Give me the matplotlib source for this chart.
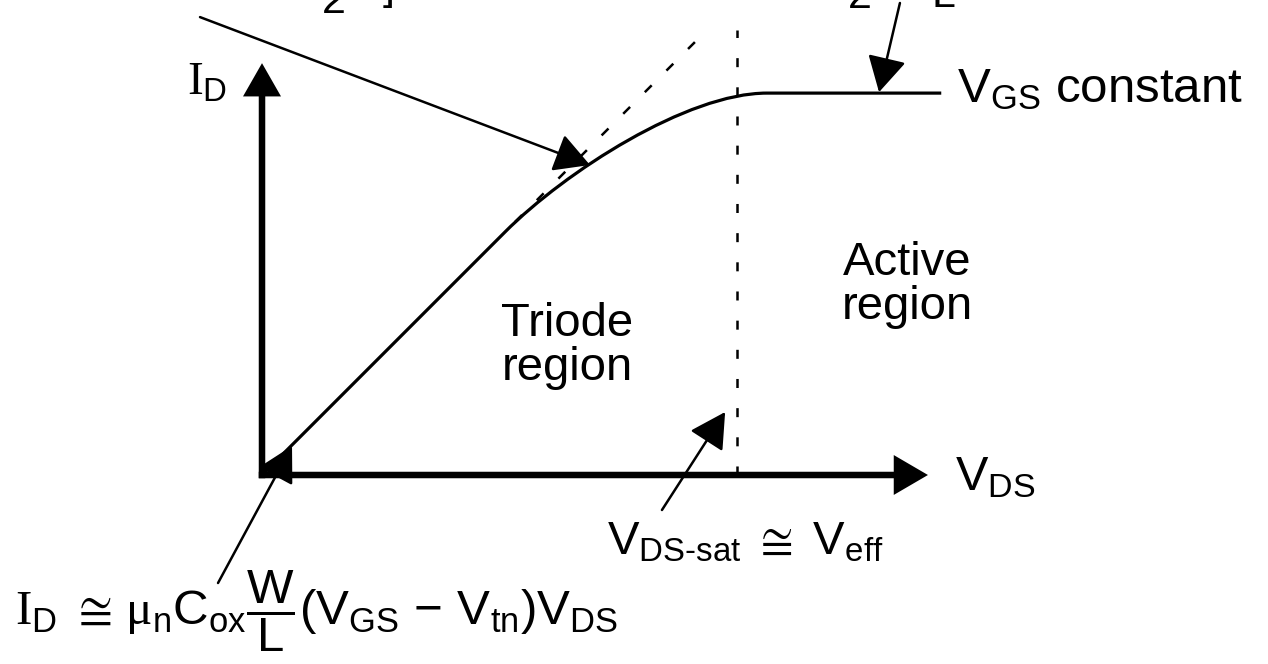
import matplotlib
matplotlib.use("Agg")
import matplotlib.pyplot as plt
from matplotlib.path import Path
from matplotlib.patches import PathPatch

plt.rcParams['mathtext.fontset'] = 'custom'
plt.rcParams['mathtext.rm'] = 'Liberation Sans'
plt.rcParams['mathtext.it'] = 'Liberation Serif'
plt.rcParams['mathtext.sf'] = 'Liberation Sans'
plt.rcParams['mathtext.default'] = 'rm'
plt.rcParams['font.family'] = ['Liberation Sans', 'DejaVu Sans']
plt.rcParams['lines.scale_dashes'] = False

# Normalised units: V_DS in units of V_eff, I_D scaled so the triode slope is 1
vds_sat = 1.0

# I_D–V_DS characteristic: straight triode part, cubic bend, flat active part
curve_vds = [0.0, 0.512, 0.638, 0.895, 1.063, 1.430]
curve_id = [0.0, 0.512, 0.638, 0.804, 0.804, 0.804]
curve_codes = [Path.MOVETO, Path.LINETO, Path.CURVE4, Path.CURVE4,
               Path.CURVE4, Path.LINETO]

# Linear (small V_DS) approximation extended as a dashed tangent
tangent_vds = [0.533, 0.939]
tangent_id = [0.533, 0.939]

# Axis extents
vds_axis_end = 1.402
id_axis_end = 0.867

fig = plt.figure(figsize=(12.68, 6.64), dpi=100)
ax = fig.add_axes([0, 0, 1, 1])
ax.set_xlim(-0.5516, 2.1179)
ax.set_ylim(-0.3979, 1.0)
ax.axis('off')

# Axes with arrowheads
shaft = 0.0137
ax.arrow(-shaft / 2, 0, vds_axis_end + shaft / 2, 0, width=shaft,
         head_width=0.084, head_length=0.072, length_includes_head=True,
         fc='k', ec='none', zorder=3)
ax.arrow(0, -shaft / 2, 0, id_axis_end + shaft / 2, width=shaft,
         head_width=0.080, head_length=0.070, length_includes_head=True,
         fc='k', ec='none', zorder=3)

# Characteristic curve
path = Path(list(zip(curve_vds, curve_id)), curve_codes)
ax.add_patch(PathPatch(path, fc='none', ec='k', lw=2.3, capstyle='butt',
                       zorder=2))

# Dashed tangent and saturation boundary
ax.plot(tangent_vds, tangent_id, color='k', lw=1.8, dashes=(7, 15))
ax.plot([vds_sat, vds_sat], [0, 0.937], color='k', lw=1.8, dashes=(6.5, 14.5))

# Labels
fs = 34
ax.text(-0.158, 0.80, r'$\mathit{I}_{D}$', fontsize=fs, ha='left',
        va='baseline')
ax.text(1.463, 0.785, r'$V_{GS}$ constant', fontsize=35.5, ha='left',
        va='baseline')
ax.text(1.459, -0.0316, r'$V_{DS}$', fontsize=fs + 1, ha='left',
        va='baseline')
ax.text(0.642, 0.272, 'Triode\nregion', fontsize=fs, ha='center',
        va='center', linespacing=1.0)
ax.text(1.358, 0.40, 'Active\nregion', fontsize=fs, ha='center',
        va='center', linespacing=1.0)
ax.text(0.726, -0.168, r'$V_{DS\text{-}sat}\ \cong\ V_{eff}$', fontsize=fs,
        ha='left', va='baseline')
ax.text(-0.52, -0.316,
        r'$\mathit{I}_{D}\ \cong\,\mathit{\mu}_{n}C_{ox}\dfrac{W}{L}'
        r'\mathit{(}V_{GS}\,-\,V_{tn}\mathit{)}V_{DS}$',
        fontsize=35.5, ha='left', va='baseline')

# Lower edges of the triode and active-region equations
ax.text(0.152, 0.9726, '2', fontsize=31, ha='center', va='baseline')
ax.text(0.280, 1.002, ']', fontsize=31, ha='right', va='baseline')
ax.text(1.259, 0.983, '2', fontsize=31, ha='center', va='baseline')
ax.text(1.4105, 0.985, 'L', fontsize=31, ha='left', va='baseline')

# Pointers from the equations to the curve
arrow_style = dict(arrowstyle='-|>,head_length=0.4,head_width=0.22',
                   mutation_scale=55, lw=1.8, color='k', shrinkA=0, shrinkB=0)
pointers = [
    ((-0.1305, 0.964), (0.6905, 0.6526)),
    ((1.343, 0.9937), (1.299, 0.806)),
    ((0.842, -0.0737), (0.975, 0.1326)),
    ((-0.0926, -0.2274), (0.0632, 0.0611)),
]
for tail, tip in pointers:
    ax.annotate('', xy=tip, xytext=tail, arrowprops=arrow_style, zorder=4)

fig.savefig('out.png', dpi=100)
